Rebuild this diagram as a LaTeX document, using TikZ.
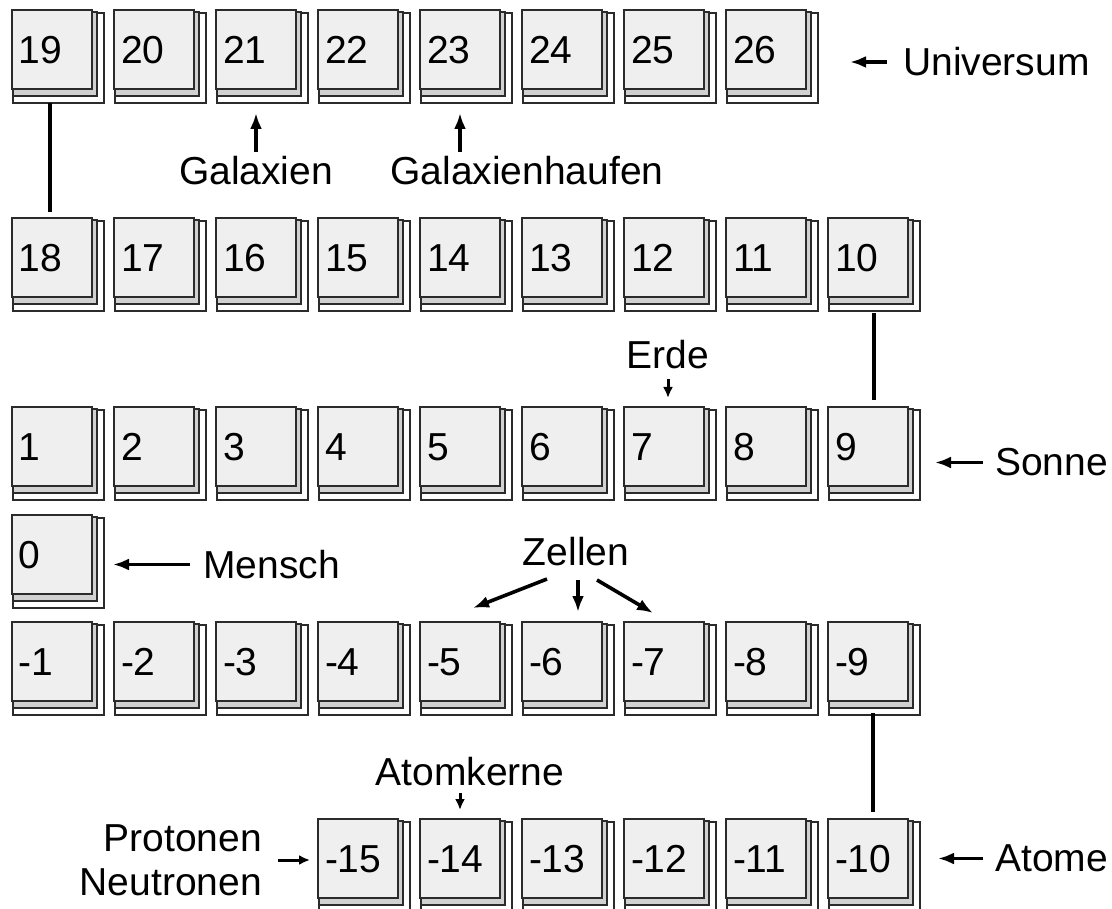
\documentclass[tikz,border=0pt]{standalone}
\usepackage{fontspec}
\setmainfont{Liberation Sans}
\usetikzlibrary{positioning,arrows.meta,backgrounds}
\definecolor{PageFace}{HTML}{EFEFEF}
\definecolor{PageEdge}{HTML}{2B2B2B}

\begin{document}
\begin{tikzpicture}[
  font=\fontsize{39}{44}\selectfont,
  node distance=22pt,
  book/.style={draw=PageEdge,line width=1.4pt,fill=PageFace,minimum width=80pt,minimum height=79pt,text width=66pt,text height=28pt,text depth=0pt,inner xsep=7pt,inner ysep=0pt,outer sep=0pt,align=left},
  sheet/.style={draw=PageEdge,line width=1.2pt,fill=#1},
  lbl/.style={inner sep=2pt},
  link/.style={line width=3.2pt},
  arrow/.style={-{Latex[length=16pt,width=12pt]},line width=3.6pt},
  tick/.style={-{Latex[length=11pt,width=10pt]},line width=3pt}
]
% rows of powers of ten
\node[book,anchor=north west] (n19) at (12pt,-10pt) {19};
\useasboundingbox ([shift={(-12pt,10pt)}]n19.north west) rectangle ++(1112pt,-909pt);
\foreach \v [remember=\v as \p (initially 19)] in {20,...,26}
  \node[book,right=of n\p] (n\v) {\v};
\node[book,below=129pt of n19] (n18) {18};
\foreach \v [remember=\v as \p (initially 18)] in {17,...,10}
  \node[book,right=of n\p] (n\v) {\v};
\node[book,below=110pt of n18] (n1) {1};
\foreach \v [remember=\v as \p (initially 1)] in {2,...,9}
  \node[book,right=of n\p] (n\v) {\v};
\node[book,below=29pt of n1] (n0) {0};
\node[book,below=28pt of n0] (m1) {-1};
\foreach \v [remember=\v as \p (initially 1)] in {2,...,9}
  \node[book,right=of m\p] (m\v) {-\v};
\node[book,below=118pt of m4] (m15) {-15};
\foreach \v [remember=\v as \p (initially 15)] in {14,...,10}
  \node[book,right=of m\p] (m\v) {-\v};

% pages behind each face
\begin{scope}[on background layer]
\foreach \b in {n0,n1,n2,n3,n4,n5,n6,n7,n8,n9,n10,n11,n12,n13,n14,n15,n16,n17,n18,n19,n20,n21,n22,n23,n24,n25,n26,m1,m2,m3,m4,m5,m6,m7,m8,m9,m10,m11,m12,m13,m14,m15} {
  \draw[sheet=white] ([shift={(1pt,-3pt)}]\b.north west) rectangle ([shift={(12pt,-14pt)}]\b.south east);
  \draw[sheet=black!18] ([shift={(1pt,-2pt)}]\b.north west) rectangle ([shift={(5pt,-7pt)}]\b.south east);
}
\end{scope}

% row links
\draw[link,shorten <=14pt,shorten >=6pt] ([xshift=-2pt]n19.south) -- ([xshift=-2pt]n18.north);
\draw[link,shorten <=16pt,shorten >=7pt] ([xshift=6pt]n10.south) -- ([xshift=6pt]n9.north);
\draw[link,shorten <=12pt,shorten >=7pt] ([xshift=5pt]m9.south) -- ([xshift=5pt]m10.north);

% labels
\node[lbl,right=95pt of n26,yshift=-12.5pt] (univ) {Universum};
\node[lbl,below=65pt of n21] (gal) {Galaxien};
\node[lbl,below=65pt of n23,xshift=67pt] (galh) {Galaxienhaufen};
\node[lbl,above=36pt of n7,xshift=4pt] (erde) {Erde};
\node[lbl,right=85pt of n9,yshift=-16pt] (sonne) {Sonne};
\node[lbl,right=109pt of n0,yshift=-10pt] (mensch) {Mensch};
\node[lbl,above=54pt of m6,xshift=14pt] (zel) {Zellen};
\node[lbl,above=31pt of m14,xshift=10pt] (atk) {Atomkerne};
\node[lbl,left=54pt of m15,yshift=-1.5pt,align=right] (pn) {Protonen\\Neutronen};
\node[lbl,right=85pt of m10] (atome) {Atome};

% arrows
\draw[arrow,shorten <=14pt,shorten >=44pt] (univ.west) -- (univ.west -| n26.east);
\draw[arrow,shorten <=2pt,shorten >=24pt] (gal.north) -- (n21.south);
\draw[arrow,shorten <=2pt,shorten >=24pt] (n23.south |- galh.north) -- (n23.south);
\draw[tick,shorten <=8pt,shorten >=9pt] (erde.south) -- (erde.south |- n7.north);
\draw[arrow,shorten <=10pt,shorten >=27pt] (sonne.west) -- (sonne.west -| n9.east);
\draw[arrow,shorten <=11pt,shorten >=21pt] (mensch.west) -- (mensch.west -| n0.east);
\draw[arrow] ([shift={(-29pt,-11pt)}]zel.south) -- ([shift={(13pt,14pt)}]m5.north);
\draw[arrow] ([shift={(2pt,-12pt)}]zel.south) -- ([shift={(16pt,10pt)}]m6.north);
\draw[arrow] ([shift={(21pt,-12pt)}]zel.south) -- ([shift={(-11pt,9pt)}]m7.north);
\draw[tick,shorten <=5pt,shorten >=9pt] (atk.south -| m14.north) -- (m14.north);
\draw[tick,shorten <=14pt,shorten >=8pt] (pn.east) -- (pn.east -| m15.west);
\draw[arrow,shorten <=10pt,shorten >=30pt] (atome.west) -- (atome.west -| m10.east);
\end{tikzpicture}
\end{document}
